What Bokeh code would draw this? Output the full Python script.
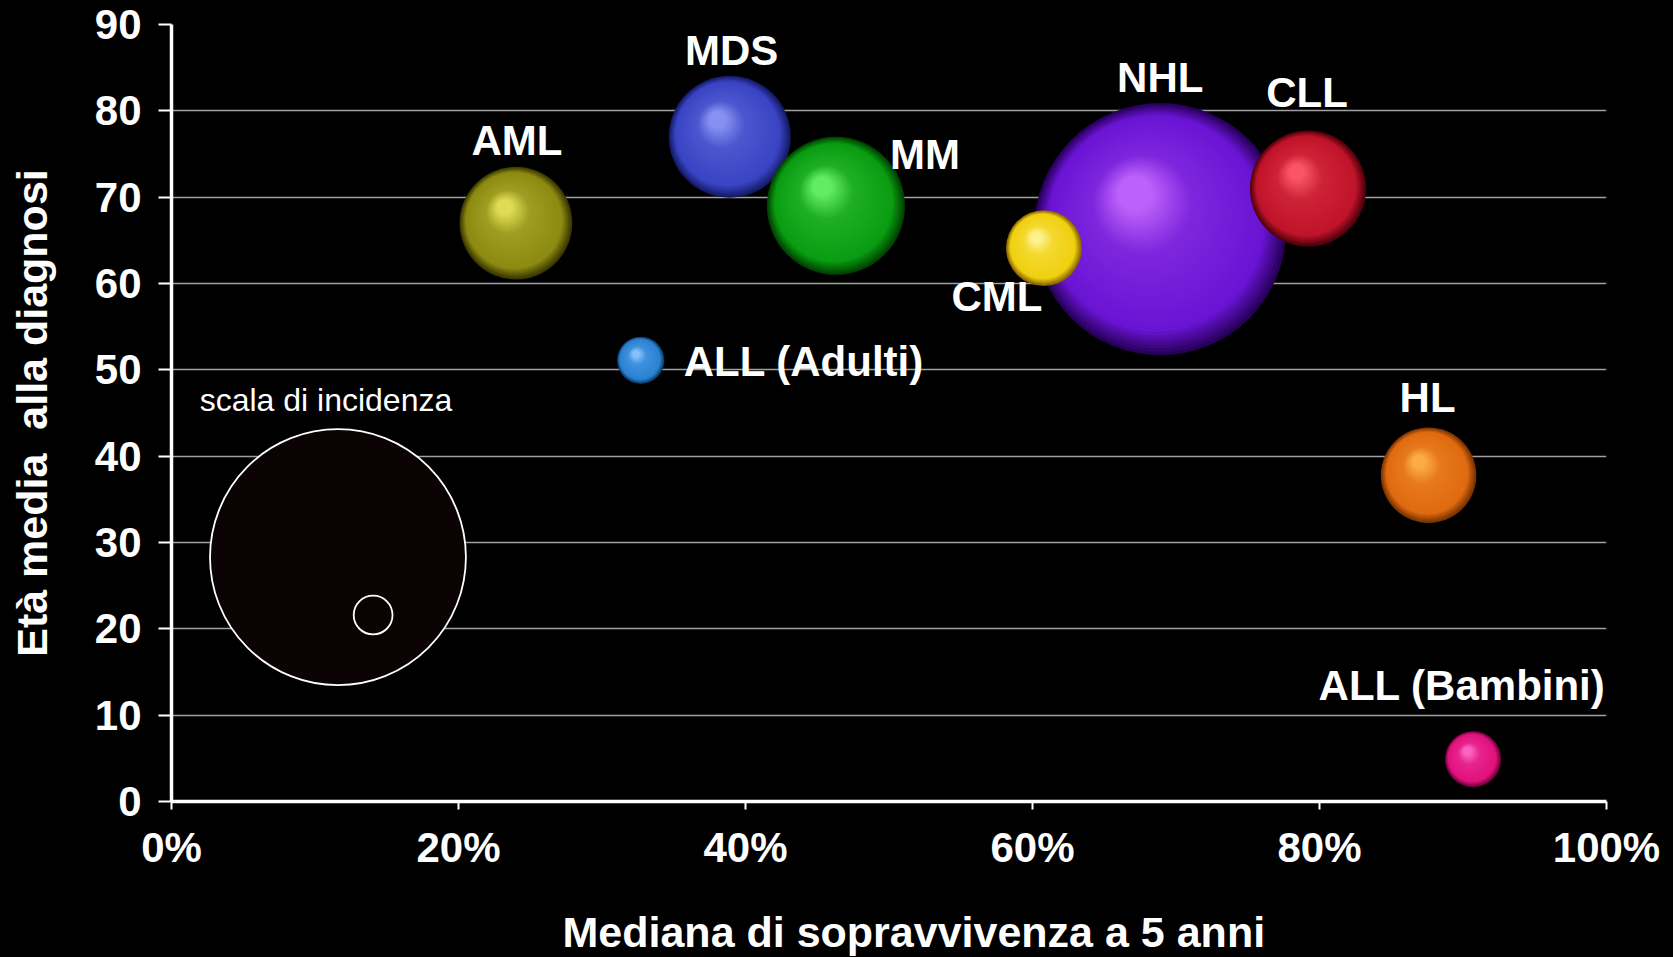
import numpy as np
from bokeh.plotting import figure
from bokeh.models import (Range1d, FixedTicker, PrintfTickFormatter, Label, Title,
                          GlobalInlineStyleSheet)
from bokeh.embed import file_html
from bokeh.resources import INLINE

# ---------------- data ----------------
names = ["AML", "MDS", "MM", "CML", "NHL", "CLL", "ALL (Adulti)", "HL", "ALL (Bambini)"]
survival = [24.0, 38.9, 46.3, 60.8, 68.9, 79.2, 32.7, 87.6, 90.7]      # % (x)
age = [67.0, 77.0, 69.0, 64.1, 66.3, 71.0, 51.1, 37.8, 4.9]             # years (y)
incidence = [3.2, 3.75, 4.8, 1.45, 16.0, 3.4, 0.56, 2.3, 0.79]          # bubble size

scale_incidence = [16.5, 0.38]
scale_x = [11.6, 14.05]
scale_y = [28.3, 21.6]

x_ticks = [0, 20, 40, 60, 80, 100]
y_ticks = [0, 10, 20, 30, 40, 50, 60, 70, 80, 90]

x_title = "Mediana di sopravvivenza a 5 anni"
y_title = "Età media\u00a0 alla diagnosi"
scale_title = "scala di incidenza"

# ---------------- styles ----------------
draw_order = [4, 1, 0, 2, 3, 5, 6, 7, 8]
dark_c = ["#3a3800", "#141a66", "#004400", "#876400", "#28005c", "#50000c", "#0c3868", "#773300", "#6c0038"]
base_c = ["#8c8a12", "#3a44c4", "#0a9c12", "#f0d010", "#6a14d4", "#c0142a", "#2a82d2", "#e06a10", "#e0127c"]
light_c = ["#e8e45e", "#8e9af6", "#6cf56c", "#fff59c", "#c66aff", "#ff5c6a", "#8ec8ff", "#ffb24c", "#ff6cc8"]

label_dx = [1, 2, 89, -47, 0, -1, 43, -1, -11]
label_dy = [83, 86, 51, -48, 152, 96, -1, 78, 74]
label_align = ["center", "center", "center", "center", "center", "center", "left", "center", "center"]

FONT = "Liberation Sans"
W, H = 1665, 991
ML, MR, MT, MB = 171, 59, 24, 190
FW, FH = W - ML - MR, H - MT - MB
K = 31.5  # px radius per sqrt(incidence)

p = figure(width=W, height=H, output_backend="svg", toolbar_location=None,
           x_range=Range1d(0, 100), y_range=Range1d(0, 90),
           min_border_left=ML, min_border_right=MR, min_border_top=MT, min_border_bottom=MB,
           background_fill_color="black", border_fill_color="black", outline_line_color=None)
p.stylesheets = [GlobalInlineStyleSheet(
    css="html, body { background: #000 !important; overflow: hidden !important; }")]

px_x = FW / 100.0
px_y = FH / 90.0

# grid
p.xgrid.grid_line_color = None
p.ygrid.ticker = FixedTicker(ticks=y_ticks)
p.ygrid.grid_line_color = "#a0a0a0"
p.ygrid.grid_line_width = 1.5

# axes
p.xaxis.ticker = FixedTicker(ticks=x_ticks)
p.yaxis.ticker = FixedTicker(ticks=y_ticks)
p.xaxis.formatter = PrintfTickFormatter(format="%d%%")
for ax in (p.xaxis, p.yaxis):
    ax.axis_line_color = "white"
    ax.axis_line_width = 3.5
    ax.major_tick_line_color = "white"
    ax.major_tick_line_width = 2
    ax.major_tick_in = 0
    ax.minor_tick_line_color = None
    ax.major_label_text_color = "white"
    ax.major_label_text_font = FONT
    ax.major_label_text_font_style = "bold"
    ax.major_label_text_font_size = "42px"
p.xaxis.major_tick_out = 8
p.yaxis.major_tick_out = 13
p.xaxis.major_label_standoff = 14
p.yaxis.major_label_standoff = 17
p.yaxis.axis_label = y_title
p.yaxis.axis_label_text_color = "white"
p.yaxis.axis_label_text_font = FONT
p.yaxis.axis_label_text_font_style = "bold"
p.yaxis.axis_label_text_font_size = "43px"
p.yaxis.axis_label_standoff = 36

# x axis title (below the axis)
p.add_layout(Title(text=x_title, align="left", offset=391, standoff=68, vertical_align="top",
                   text_color="white", text_font=FONT, text_font_style="bold",
                   text_font_size="43px"), "below")

# incidence scale legend
R_big = K * np.sqrt(scale_incidence[0])
R_small = K * np.sqrt(scale_incidence[1])
p.scatter(x=[scale_x[0]], y=[scale_y[0]], size=2 * R_big, marker="circle",
          fill_color="#0b0203", line_color="white", line_width=1.8)
p.scatter(x=[scale_x[1]], y=[scale_y[1]], size=2 * R_small, marker="circle",
          fill_color="#0b0203", line_color="white", line_width=1.8)
p.add_layout(Label(x=scale_x[0], y=scale_y[0], x_offset=-12, y_offset=157, text=scale_title,
                   text_color="white", text_font=FONT, text_font_size="32px",
                   text_align="center", text_baseline="middle"))


def hex2rgb(h):
    h = h.lstrip("#")
    return np.array([int(h[i:i + 2], 16) for i in (0, 2, 4)], dtype=float)


def rgb2hex(c):
    c = np.clip(np.round(c), 0, 255).astype(int)
    return "#%02x%02x%02x" % tuple(c)


def shade(i, t):
    d, b, l = hex2rgb(dark_c[i]), hex2rgb(base_c[i]), hex2rgb(light_c[i])
    mid = b + (l - b) * 0.22
    if t < 0.16:
        return rgb2hex(d + (b - d) * (t / 0.16))
    if t < 0.7:
        return rgb2hex(b + (mid - b) * ((t - 0.16) / 0.54))
    top = b + (l - b) * 0.9
    return rgb2hex(mid + (top - mid) * ((t - 0.7) / 0.3))


# spheres: each drawn as a stack of nested circles approximating a lit sphere
N = 44
for i in draw_order:
    R = K * np.sqrt(incidence[i])
    xs, ys, sz, cols = [], [], [], []
    for k in range(N + 1):
        t = k / N
        xs.append(survival[i] + (-0.2 * R * t) / px_x)
        ys.append(age[i] + (0.28 * R * t) / px_y)
        sz.append(2 * R * (1 - 0.86 * t))
        cols.append(shade(i, t))
    p.scatter(x=xs, y=ys, size=sz, marker="circle", fill_color=cols, line_color=None)

# labels
for i, n in enumerate(names):
    p.add_layout(Label(x=survival[i], y=age[i], x_offset=label_dx[i], y_offset=label_dy[i],
                       text=n, text_color="white", text_font=FONT, text_font_style="bold",
                       text_font_size="42px", text_align=label_align[i], text_baseline="middle"))

open("out.html", "w").write(file_html(p, INLINE))
